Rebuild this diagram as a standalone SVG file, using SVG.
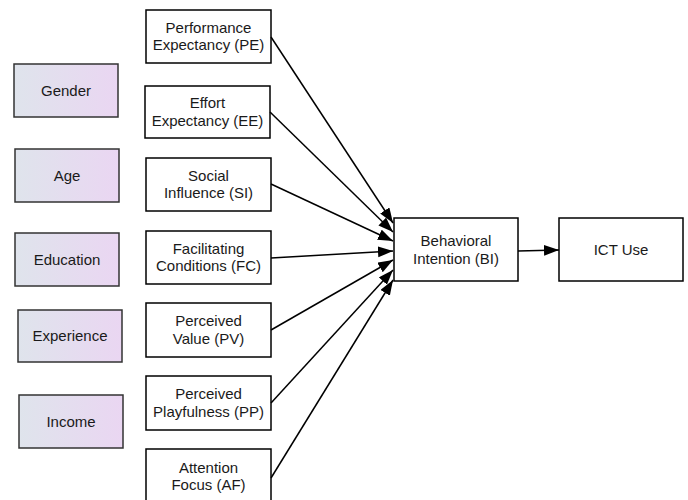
<svg xmlns="http://www.w3.org/2000/svg" width="688" height="500" viewBox="0 0 688 500">
<defs>
<linearGradient id="mod" x1="0" y1="0" x2="1" y2="0">
<stop offset="0" stop-color="#dfe4ec"/>
<stop offset="1" stop-color="#ead6f2"/>
</linearGradient>
<marker id="arr" markerUnits="userSpaceOnUse" markerWidth="16" markerHeight="12" refX="15" refY="5.5" orient="auto">
<path d="M0,0 L15,5.5 L0,11 z" fill="#000"/>
</marker>
</defs>
<style>
.box{fill:#fff;stroke:#000;stroke-width:1.5}
.mod{fill:url(#mod);stroke:#333;stroke-width:1.5}
text{font-family:"Liberation Sans",Arial,sans-serif;font-size:15px;fill:#1a1a1a;text-anchor:middle}
.conn line{stroke:#000;stroke-width:1.5;marker-end:url(#arr)}
</style>
<rect width="688" height="500" fill="#fff"/>
<g id="gender"><rect class="mod" x="14" y="64" width="104" height="53"/><text x="66" y="95.5">Gender</text></g>
<g id="age"><rect class="mod" x="15" y="149" width="104" height="53"/><text x="67" y="180.5">Age</text></g>
<g id="education"><rect class="mod" x="15" y="233" width="104" height="53"/><text x="67" y="264.5">Education</text></g>
<g id="experience"><rect class="mod" x="18" y="310" width="104" height="52"/><text x="70" y="341">Experience</text></g>
<g id="income"><rect class="mod" x="19" y="395" width="104" height="53"/><text x="71" y="426.5">Income</text></g>
<g id="pe"><rect class="box" x="146" y="10" width="125" height="53"/><text x="208.5" y="32.5">Performance</text><text x="208.5" y="50">Expectancy (PE)</text></g>
<g id="ee"><rect class="box" x="145" y="86" width="125" height="52"/><text x="207.5" y="108">Effort</text><text x="207.5" y="125.5">Expectancy (EE)</text></g>
<g id="si"><rect class="box" x="146" y="158" width="125" height="53"/><text x="208.5" y="180.5">Social</text><text x="208.5" y="198">Influence (SI)</text></g>
<g id="fc"><rect class="box" x="146" y="231" width="125" height="53"/><text x="208.5" y="253.5">Facilitating</text><text x="208.5" y="271">Conditions (FC)</text></g>
<g id="pv"><rect class="box" x="146" y="303" width="125" height="54"/><text x="208.5" y="326">Perceived</text><text x="208.5" y="343.5">Value (PV)</text></g>
<g id="pp"><rect class="box" x="146" y="376" width="125" height="54"/><text x="208.5" y="399">Perceived</text><text x="208.5" y="416.5">Playfulness (PP)</text></g>
<g id="af"><rect class="box" x="146" y="449" width="125" height="56"/><text x="208.5" y="472.5">Attention</text><text x="208.5" y="490">Focus (AF)</text></g>
<g id="bi"><rect class="box" x="394" y="218" width="124" height="63"/><text x="456" y="246">Behavioral</text><text x="456" y="263.5">Intention (BI)</text></g>
<g id="ict"><rect class="box" x="559" y="218" width="124" height="63"/><text x="621" y="255">ICT Use</text></g>
<g id="connectors" class="conn">
<line x1="271" y1="37" x2="393" y2="223"/>
<line x1="270" y1="112" x2="393" y2="232"/>
<line x1="271" y1="184" x2="393" y2="241"/>
<line x1="271" y1="258" x2="393" y2="251"/>
<line x1="271" y1="330" x2="393" y2="260"/>
<line x1="271" y1="403" x2="393" y2="270"/>
<line x1="271" y1="478" x2="393" y2="280"/>
<line x1="518" y1="251" x2="559" y2="250"/>
</g>
</svg>
